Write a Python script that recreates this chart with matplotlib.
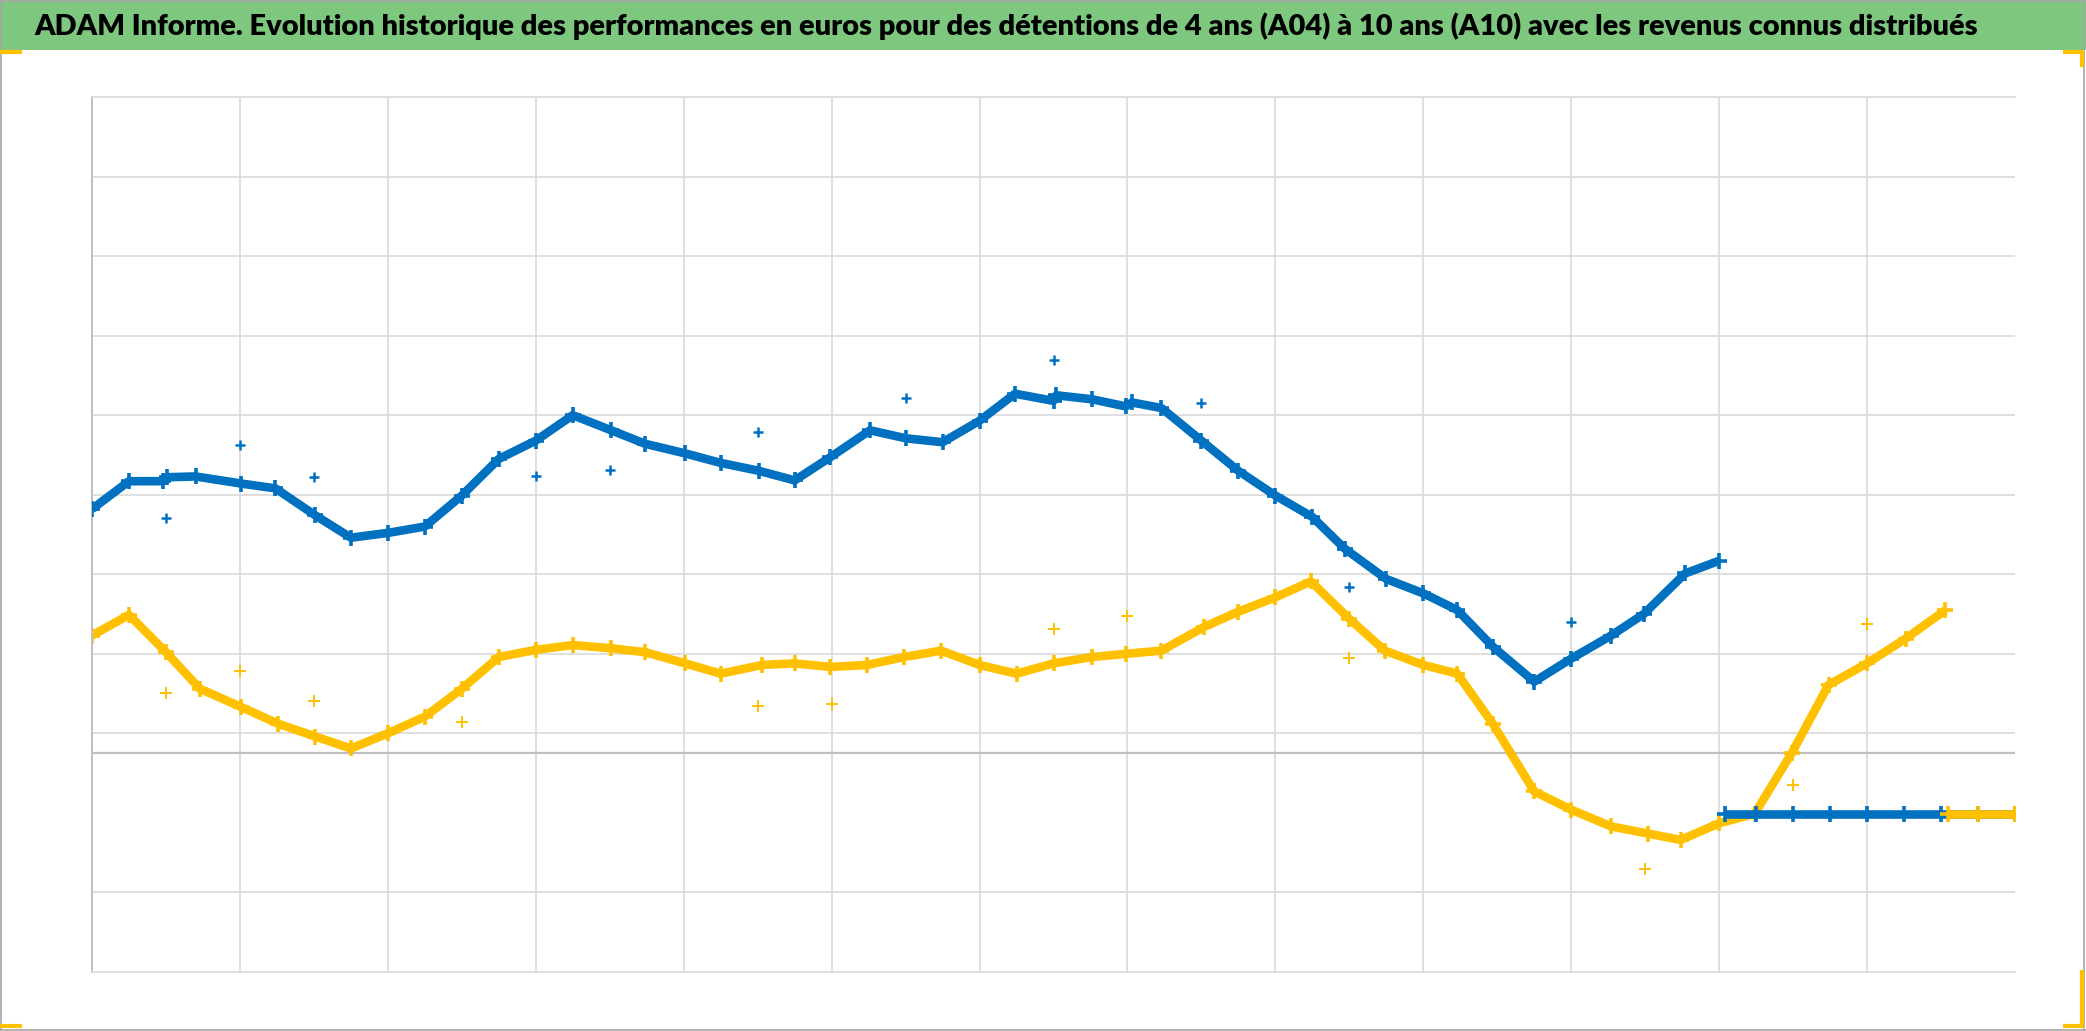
import matplotlib
matplotlib.use("Agg")
import matplotlib.pyplot as plt
from matplotlib.patches import Rectangle
from matplotlib.lines import Line2D

W, H = 2086, 1031
DPI = 100

title_text = ("ADAM Informe. Evolution historique des performances en euros pour des "
              "détentions de 4 ans (A04) à 10 ans (A10) avec les revenus connus distribués")

# ---- data (x in periods, y in chart units, zero line = 0) ----
blue_x = [0.0, 0.25, 0.48, 0.51, 0.70, 1.01, 1.24, 1.51, 1.75, 2.0, 2.25, 2.50, 2.75, 3.0,
          3.25, 3.51, 3.74, 4.01, 4.25, 4.51, 4.75, 4.99, 5.26, 5.50, 5.75, 6.0, 6.24, 6.50,
          6.52, 6.76, 6.99, 7.03, 7.23, 7.50, 7.75, 8.0, 8.25, 8.47, 8.75, 9.0, 9.23, 9.47,
          9.75, 10.0, 10.27, 10.49, 10.77, 11.0]
blue_y = [3.07, 3.42, 3.42, 3.47, 3.48, 3.39, 3.33, 2.99, 2.71, 2.77, 2.85, 3.24, 3.70, 3.93,
          4.25, 4.06, 3.89, 3.77, 3.65, 3.55, 3.43, 3.72, 4.06, 3.96, 3.91, 4.18, 4.52, 4.43,
          4.50, 4.45, 4.36, 4.41, 4.34, 3.93, 3.55, 3.24, 2.97, 2.57, 2.19, 2.01, 1.80, 1.34,
          0.90, 1.19, 1.48, 1.75, 2.26, 2.42]
blue_tail_x = [11.04, 11.25, 11.5, 11.75, 12.0, 12.25, 12.5, 12.75, 13.0]
blue_tail_y = [-0.76, -0.76, -0.76, -0.76, -0.76, -0.76, -0.76, -0.76, -0.76]

yellow_x = [0.0, 0.25, 0.50, 0.73, 1.01, 1.26, 1.51, 1.75, 2.0, 2.25, 2.50, 2.75, 3.0, 3.25,
            3.51, 3.74, 4.01, 4.25, 4.53, 4.75, 4.99, 5.24, 5.49, 5.74, 6.0, 6.25, 6.50, 6.76,
            6.99, 7.23, 7.52, 7.75, 8.0, 8.24, 8.50, 8.74, 9.0, 9.23, 9.47, 9.75, 10.0, 10.27,
            10.52, 10.74, 11.0, 11.24, 11.49, 11.74, 12.0, 12.26, 12.53]
yellow_y = [1.48, 1.74, 1.27, 0.81, 0.58, 0.37, 0.21, 0.06, 0.25, 0.46, 0.81, 1.21, 1.30, 1.36,
            1.32, 1.27, 1.13, 1.00, 1.11, 1.13, 1.085, 1.11, 1.21, 1.29, 1.11, 1.00, 1.13, 1.21,
            1.25, 1.29, 1.59, 1.78, 1.96, 2.16, 1.69, 1.29, 1.11, 1.00, 0.37, -0.48, -0.71, -0.92,
            -1.01, -1.09, -0.88, -0.76, 0.00, 0.86, 1.13, 1.44, 1.80]
yellow_tail_x = [12.55, 12.75, 13.0]
yellow_tail_y = [-0.76, -0.76, -0.76]

blue_rev_x = [0.5, 1.0, 1.5, 3.0, 3.5, 4.5, 5.5, 6.5, 7.5, 8.5, 10.0]
blue_rev_y = [2.96, 3.88, 3.47, 3.49, 3.56, 4.04, 4.46, 4.95, 4.40, 2.09, 1.65]
yellow_rev_x = [0.5, 1.0, 1.5, 2.5, 4.5, 5.0, 6.5, 7.0, 8.5, 10.5, 11.5, 12.0]
yellow_rev_y = [0.76, 1.04, 0.66, 0.39, 0.59, 0.62, 1.56, 1.73, 1.20, -1.46, -0.40, 1.63]

x_grid = [1, 2, 3, 4, 5, 6, 7, 8, 9, 10, 11, 12]
y_grid = [-1.75, 0.25, 1.25, 2.25, 3.25, 4.25, 5.25, 6.25, 7.25]

BLUE = "#0070C0"
YELLOW = "#FFC000"
GREEN = "#7DC87E"
GRID = "#D9D9D9"

fig = plt.figure(figsize=(W / DPI, H / DPI), dpi=DPI)
fig.patch.set_facecolor("white")


def fx(px):
    return px / W


def fy(py):
    return 1 - py / H


# header band
fig.add_artist(Rectangle((0, fy(50)), 1, 50 / H, transform=fig.transFigure,
                         facecolor=GREEN, edgecolor="none", zorder=0))

# outer frame
for (x0, y0, x1, y1) in [(0, 0.5, W, 0.5), (2084, 0, 2084, H), (0, 1029.5, W, 1029.5),
                         (0.5, 0, 0.5, H)]:
    fig.add_artist(Line2D([fx(x0), fx(x1)], [fy(y0), fy(y1)], transform=fig.transFigure,
                          color="#A6A6A6", lw=1.2, zorder=5))

# orange corner marks
for xs, ys in [([0, 22], [51.5, 51.5]),
               ([2063, 2082, 2082], [51.5, 51.5, 67]),
               ([0, 22], [1026, 1026]),
               ([2063, 2082, 2082], [1026, 1026, 970])]:
    fig.add_artist(Line2D([fx(v) for v in xs], [fy(v) for v in ys], transform=fig.transFigure,
                          color=YELLOW, lw=3.0, solid_capstyle="butt",
                          solid_joinstyle="miter", zorder=6))

# title
t = fig.text(fx(1006), fy(26), title_text, ha="center", va="center", fontsize=24,
             fontweight="heavy", color="#000000",
             family=["Liberation Sans Narrow", "Lato", "DejaVu Sans"])
fig.canvas.draw()
bb = t.get_window_extent()
target = 1945.0
t.set_fontsize(24 * target / bb.width)

# plot area
ax = fig.add_axes([fx(92), fy(972), (2015 - 92) / W, (972 - 97) / H])
ax.set_xlim(0, 13)
ax.set_ylim(-2.75, 8.25)
ax.set_xticks(x_grid)
ax.set_yticks(y_grid)
ax.tick_params(length=0, labelleft=False, labelbottom=False)
ax.grid(True, color=GRID, lw=1.2)
ax.set_axisbelow(True)
for s in ["top", "bottom"]:
    ax.spines[s].set_color(GRID)
    ax.spines[s].set_linewidth(1.2)
ax.spines["right"].set_visible(False)
ax.spines["left"].set_color("#BFBFBF")
ax.spines["left"].set_linewidth(1.4)
ax.axhline(0, color="#BFBFBF", lw=1.6, zorder=1)

line_kw = dict(lw=6.2, marker="+", ms=11, mew=2.6, solid_joinstyle="round",
               solid_capstyle="butt")
ax.plot(yellow_x, yellow_y, color=YELLOW, zorder=2, **line_kw)
ax.plot(blue_x, blue_y, color=BLUE, zorder=3, **line_kw)
ax.plot(blue_tail_x, blue_tail_y, color=BLUE, zorder=3, **line_kw)
ax.plot(yellow_tail_x, yellow_tail_y, color=YELLOW, zorder=4, **line_kw)

ax.plot(blue_rev_x, blue_rev_y, linestyle="none", marker="+", ms=7, mew=1.8, color=BLUE, zorder=5)
ax.plot(yellow_rev_x, yellow_rev_y, linestyle="none", marker="+", ms=8, mew=1.4, color=YELLOW,
        zorder=5)

fig.savefig("out.png", dpi=DPI, facecolor="white")
